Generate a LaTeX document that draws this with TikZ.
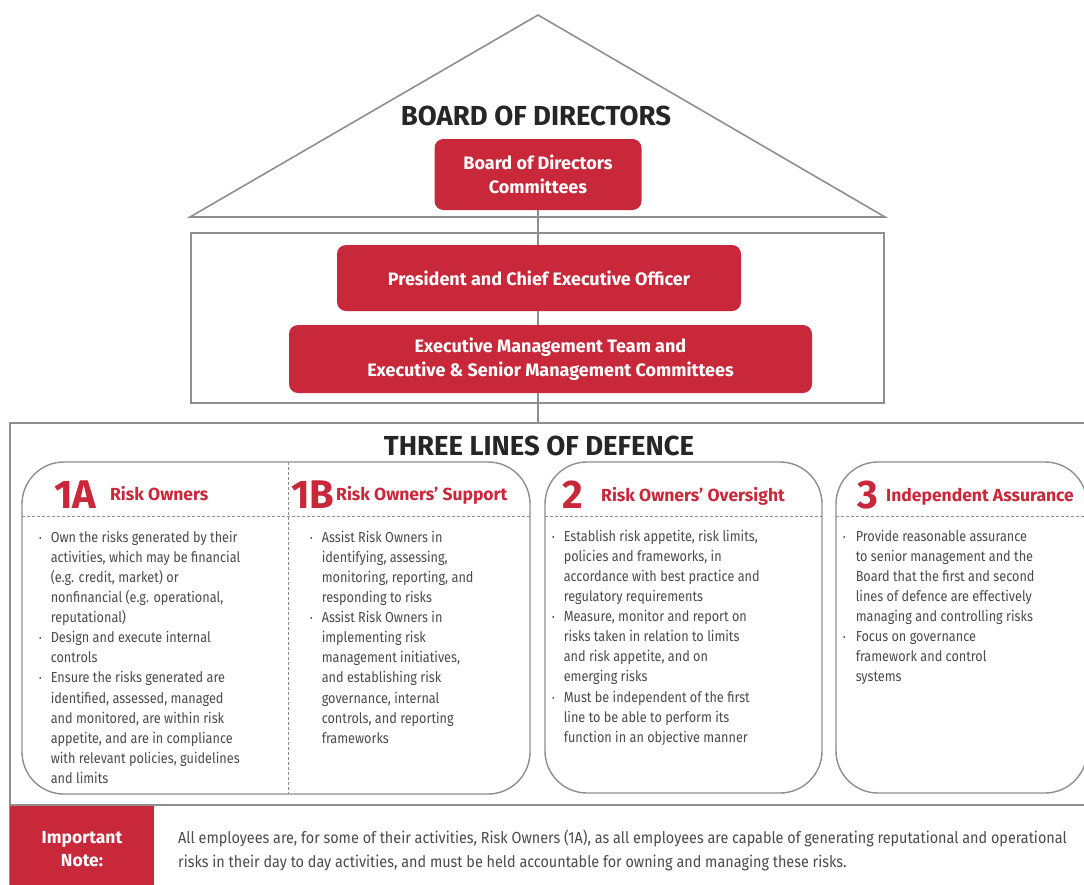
\documentclass[tikz,border=0pt]{standalone}
\usepackage{fontspec}
\setmainfont{Fira Sans}[FakeStretch=0.875]
\newfontfamily\widefont{Fira Sans}
\newfontfamily\notefont{Fira Sans}[FakeStretch=0.9]
\definecolor{rmred}{HTML}{C8283A}
\definecolor{linegray}{HTML}{8E8E8E}
\definecolor{bodygray}{HTML}{4A4A4A}
\newcommand{\bul}{{\fontsize{9}{9}\selectfont\raisebox{1pt}{\textbullet}}}
\tikzset{
    redbox/.style={rectangle, rounded corners=9pt, fill=rmred, text=white, align=center, inner sep=0pt,
                   font=\widefont\bfseries\fontsize{18}{23.5}\selectfont},
    frame/.style={draw=linegray, line width=1.6pt},
    panel/.style={draw=linegray, line width=1.4pt, rounded corners=42pt},
    divider/.style={draw=linegray, dash pattern=on 3pt off 2pt, line width=0.9pt},
    bullets/.style={anchor=north west, text=bodygray, inner sep=0pt, font=\fontsize{14.5}{20.1}\selectfont},
    linenum/.style={anchor=base west, text=rmred, inner sep=0pt, font=\widefont\bfseries\fontsize{40}{40}\selectfont},
    linename/.style={anchor=base west, text=rmred, inner sep=0pt, font=\widefont\bfseries\fontsize{17.5}{18}\selectfont},
    heading/.style={text=black!85, inner sep=0pt, font=\widefont\bfseries\fontsize{27.5}{28}\selectfont}
}

\begin{document}
\begin{tikzpicture}[x=1pt, y=-1pt]
  \useasboundingbox (0,0) rectangle (1084,884);

  % roof and management frame
  \draw[frame, line join=miter] (190,217) -- (538,15) -- (885,217) -- cycle;
  \draw[frame] (191,233) rectangle (884,403);
  \draw[frame] (1090,423) -- (10,423) -- (10,890);
  \draw[frame] (10,805) -- (1090,805);

  \node[heading] (bodtitle) at (536,116) {BOARD OF DIRECTORS};
  \node[redbox, minimum width=207pt, minimum height=71pt] (bod) at (538,174.5)
    {Board of Directors\\Committees};
  \node[redbox, minimum width=404pt, minimum height=66pt] (ceo) at (539,278)
    {President and Chief Executive Officer};
  \node[redbox, minimum width=523pt, minimum height=68pt] (emt) at (550.5,359)
    {Executive Management Team and\\Executive \& Senior Management Committees};
  \coordinate (tld) at (538,423);

  % reporting line
  \draw[frame] (bod.south) -- (bod.south |- ceo.north);
  \draw[frame] (bod.south |- ceo.south) -- (bod.south |- emt.north);
  \draw[frame] (bod.south |- emt.south) -- (tld);

  \node[heading] (tldtitle) at (539,446) {THREE LINES OF DEFENCE};

  % panels
  \draw[panel] (22,462) rectangle (530,794);
  \draw[panel] (545,462) rectangle (822,793);
  \draw[panel] (836,462) rectangle (1087,793);
  \draw[divider] (22,516) -- (530,516);
  \draw[divider] (288,462) -- (288,794);
  \draw[divider] (545,516) -- (822,516);
  \draw[divider] (836,516) -- (1087,516);

  \node[linenum] (n1a) at (54,508) {1A};
  \node[linename] (t1a) at (110,500) {Risk Owners};
  \node[linenum] (n1b) at (291,508) {1B};
  \node[linename] (t1b) at (336,500) {Risk Owners’ Support};
  \node[linenum] (n2) at (562,508) {2};
  \node[linename] (t2) at (601,501) {Risk Owners’ Oversight};
  \node[linenum] (n3) at (857,508) {3};
  \node[linename] (t3) at (886,501) {Independent Assurance};

  \node[bullets] (b1a) at (39,528) {\begin{tabular}{@{}c@{\hspace{9pt}}l@{}}
    \bul & Own the risks generated by their\\
         & activities, which may be financial\\
         & (e.g. credit, market) or\\
         & nonfinancial (e.g. operational,\\
         & reputational)\\
    \bul & Design and execute internal\\
         & controls\\
    \bul & Ensure the risks generated are\\
         & identified, assessed, managed\\
         & and monitored, are within risk\\
         & appetite, and are in compliance\\
         & with relevant policies, guidelines\\
         & and limits
  \end{tabular}};
  \node[bullets] (b1b) at (310,528) {\begin{tabular}{@{}c@{\hspace{9pt}}l@{}}
    \bul & Assist Risk Owners in\\
         & identifying, assessing,\\
         & monitoring, reporting, and\\
         & responding to risks\\
    \bul & Assist Risk Owners in\\
         & implementing risk\\
         & management initiatives,\\
         & and establishing risk\\
         & governance, internal\\
         & controls, and reporting\\
         & frameworks
  \end{tabular}};
  \node[bullets] (b2) at (552,527) {\begin{tabular}{@{}c@{\hspace{9pt}}l@{}}
    \bul & Establish risk appetite, risk limits,\\
         & policies and frameworks, in\\
         & accordance with best practice and\\
         & regulatory requirements\\
    \bul & Measure, monitor and report on\\
         & risks taken in relation to limits\\
         & and risk appetite, and on\\
         & emerging risks\\
    \bul & Must be independent of the first\\
         & line to be able to perform its\\
         & function in an objective manner
  \end{tabular}};
  \node[bullets] (b3) at (843,527) {\begin{tabular}{@{}c@{\hspace{10pt}}l@{}}
    \bul & Provide reasonable assurance\\
         & to senior management and the\\
         & Board that the first and second\\
         & lines of defence are effectively\\
         & managing and controlling risks\\
    \bul & Focus on governance\\
         & framework and control\\
         & systems
  \end{tabular}};

  % important note
  \fill[rmred] (10,806) rectangle (154,890);
  \node[text=white, align=center, inner sep=0pt, font=\widefont\bfseries\fontsize{17.5}{23}\selectfont]
    (notehead) at (82,849) {Important\\Note:};
  \node[anchor=west, align=left, text=bodygray, inner sep=0pt, font=\notefont\fontsize{16}{24}\selectfont]
    (notetext) at (178,850) {All employees are, for some of their activities, Risk Owners (1A), as all employees are capable of generating reputational and operational\\
    risks in their day to day activities, and must be held accountable for owning and managing these risks.};
\end{tikzpicture}
\end{document}
